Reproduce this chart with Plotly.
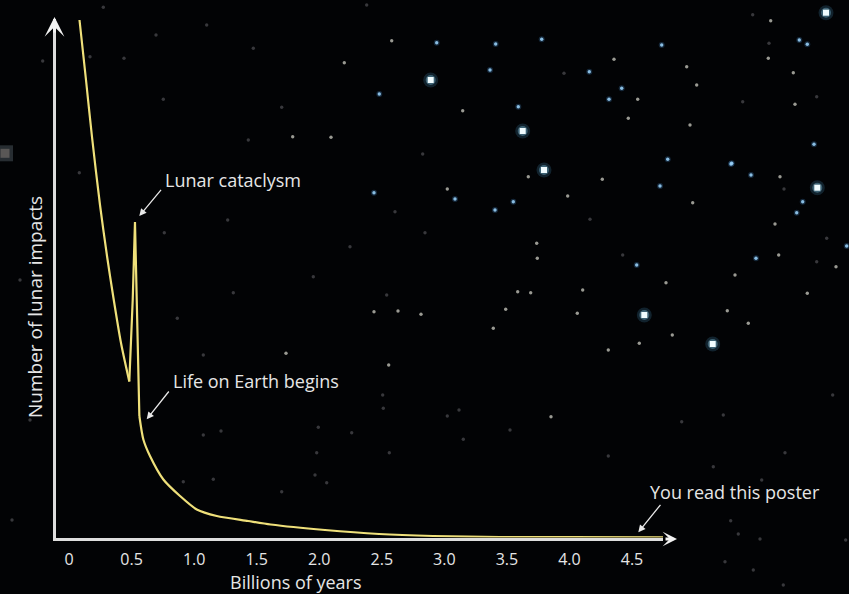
import plotly.graph_objects as go

# ---------------- data ----------------
# early decline (before the cataclysm)
early_years = [0.0835, 0.1355, 0.1835, 0.2474, 0.3034, 0.3537, 0.4153, 0.4816]
early_impacts = [103.5, 91.5, 80.1, 66.5, 56.3, 48.1, 38.9, 31.2]
# lunar cataclysm spike
spike_years = [0.4816, 0.509, 0.527, 0.541, 0.562]
spike_impacts = [31.2, 47.6, 63.1, 47.6, 24.3]
# late decline (after life on Earth begins)
late_years = [0.562, 0.594, 0.647, 0.754, 0.887, 1.021, 1.181, 1.431, 1.612,
              2.046, 2.478, 2.910, 3.445, 4.000, 4.750]
late_impacts = [24.3, 19.6, 16.3, 11.6, 8.3, 5.6, 4.3, 3.3, 2.6,
                1.5, 0.7, 0.3, 0.1, 0.06, 0.05]
tick_vals = [0, 0.5, 1.0, 1.5, 2.0, 2.5, 3.0, 3.5, 4.0, 4.5]
tick_text = ["0", "0.5", "1.0", "1.5", "2.0", "2.5", "3.0", "3.5", "4.0", "4.5"]

# background star field (decoration, image pixel coordinates)
bright_x = [522.7, 544, 644.3, 712.7, 826, 817.3, 430.7]
bright_y = [131, 170, 315, 344, 12.7, 187.7, 80]
blue_x = [495.7, 490, 541.7, 589.3, 621.7, 609, 518.3, 667.7, 731, 455, 495, 660,
          379.3, 436.7, 374, 799.3, 807.3, 814, 731.7, 751, 802.7, 796.7, 846.7,
          756, 636.7, 513.3, 661.7]
blue_y = [44, 70, 39.3, 71.7, 88.3, 99.3, 106.7, 159.3, 164, 199, 210, 186,
          94, 42.7, 192.7, 40, 44.3, 144.3, 163.3, 175, 201.7, 212.7, 246,
          258.3, 265, 201.7, 45]
white_x = [462.7, 614, 637.7, 628.3, 690, 686.7, 696.7, 528.3, 447.3, 567.7, 602.3,
           692.7, 536.7, 537.3, 517.7, 530.7, 505.7, 493.3, 582.7, 577.3, 672.3,
           727.3, 735, 608.3, 639.3, 748.3, 770.7, 768.3, 793.3, 795, 780, 775,
           778.7, 836, 807.3, 391.7, 344.3, 331, 292.7, 374, 398, 421, 286, 388.7,
           551, 666]
white_y = [110.7, 59.3, 99.3, 118.3, 125, 66.7, 85, 176.7, 189, 196, 179.3,
           202.7, 243.3, 258.3, 291.7, 292.7, 309.3, 328.3, 290, 313.3, 335,
           310.7, 275, 350, 343.3, 323.3, 20.7, 58.3, 72.7, 104.3, 176.7, 224,
           255, 266.7, 293.3, 40.7, 62.7, 137.3, 136.7, 311.7, 311, 314.3, 353.3, 365,
           416.7, 282.7]
dim_x = [564, 622.7, 590, 366.7, 281.7, 253.3, 206.7, 156, 425, 395, 227.7, 164.3,
         163.3, 248.3, 79.3, 42.7, 90, 124, 103.3, 422.7, 350, 313.3, 233.3, 386.7,
         752.7, 769, 742.7, 816.7, 826.7, 784, 816.7, 177.3, 203.3, 318.3, 351.7,
         221, 203.3, 316.7, 389.3, 383.3, 382.7, 183.3, 213.3, 315, 326.7, 281.7,
         447.3, 459, 681.7, 723.3, 785, 761.7, 832.7, 608.3, 463.3, 510, 713.3,
         730.7, 738.3, 760, 845.7, 725, 753.3, 783.3, 20, 30, 12]
dim_y = [73.3, 255, 219.3, 5, 107.3, 48.3, 25, 35, 232.7, 211.7, 220, 232.7,
         99.3, 140, 172.7, 61, 56.7, 58.3, 7.3, 154, 246.7, 276.7, 292.7, 295,
         14.7, 43.3, 101.7, 96.7, 238.3, 189, 261.7, 318.3, 355, 427.3, 432.7,
         431, 435, 452.7, 452.7, 408.3, 395, 481.7, 479.3, 475, 482.7, 491.7,
         416, 410, 421.7, 415, 452.7, 480, 395, 456, 439.3, 430, 466.7,
         520.7, 534, 539, 540, 561.7, 570, 585, 280, 420, 520]

W, H = 849, 594
fig = go.Figure()


def stars(xs, ys, **marker):
    marker.setdefault("line_width", 0)
    fig.add_trace(go.Scatter(x=xs, y=ys, mode="markers", hoverinfo="skip",
                             marker=marker, xaxis="x", yaxis="y", showlegend=False))


# star field on a full-page pixel subplot (x / y)
stars([5], [153.3], size=16, symbol="square", color="rgba(110,125,135,0.35)")
stars([5], [153.3], size=9, symbol="square", color="rgba(150,140,130,0.45)")
stars(dim_x, dim_y, size=3.4, color="rgba(110,110,115,0.5)")
stars(white_x, white_y, size=3.4, color="rgba(205,205,195,0.75)")
stars(blue_x, blue_y, size=6, color="rgba(80,150,220,0.25)")
stars(blue_x, blue_y, size=3.4, color="rgba(150,205,245,0.9)")
stars(bright_x, bright_y, size=15, color="rgba(90,180,230,0.18)")
stars(bright_x, bright_y, size=10, color="rgba(140,215,245,0.35)")
stars(bright_x, bright_y, size=6, symbol="square", color="rgba(240,252,255,1)")

# impact curve
curve_col = "#efe07a"
for xs, ys, shape in [(early_years, early_impacts, "spline"),
                      (spike_years, spike_impacts, "linear"),
                      (late_years, late_impacts, "spline")]:
    line = dict(color=curve_col, width=2.2, shape=shape)
    if shape == "spline":
        line["smoothing"] = 0.7
    fig.add_trace(go.Scatter(x=xs, y=ys, mode="lines", hoverinfo="skip", line=line,
                             xaxis="x2", yaxis="y2", showlegend=False, cliponaxis=True))

# geometry of the chart (pixels)
x_left_px, x_right_px = 56, 663
y_bot_px, y_top_px = 537.5, 19
x0_px, px_per_unit = 69.05, 125.1
px_per_y = 5.0
x_range = [(x_left_px - x0_px) / px_per_unit, (x_right_px - x0_px) / px_per_unit]
y_range = [0, (y_bot_px - y_top_px) / px_per_y]

axis_col = "#dedede"
txt_col = "#e6e6e6"
font_fam = "Open Sans"

fig.update_layout(
    width=W, height=H,
    margin=dict(l=0, r=0, t=0, b=0),
    paper_bgcolor="#020305",
    plot_bgcolor="rgba(0,0,0,0)",
    showlegend=False,
    xaxis=dict(domain=[0, 1], range=[0, W], visible=False, fixedrange=True),
    yaxis=dict(domain=[0, 1], range=[H, 0], visible=False, fixedrange=True),
    xaxis2=dict(domain=[x_left_px / W, x_right_px / W], range=x_range, anchor="y2",
                showgrid=False, zeroline=False, showline=True, linecolor=axis_col,
                linewidth=3, layer="below traces",
                tickmode="array", tickvals=tick_vals, ticktext=tick_text,
                ticks="outside", ticklen=5, tickcolor="rgba(0,0,0,0)",
                tickfont=dict(family=font_fam, size=16, color=txt_col)),
    yaxis2=dict(domain=[1 - y_bot_px / H, 1 - y_top_px / H], range=y_range, anchor="x2",
                showgrid=False, zeroline=False, showline=True, linecolor=axis_col,
                linewidth=3, layer="below traces", showticklabels=False, ticks=""),
)

ann = []
# axis arrowheads
ann.append(dict(x=677, y=539, ax=664, ay=539, xref="x", yref="y", axref="x", ayref="y",
                text="", showarrow=True, arrowhead=3, arrowwidth=3, arrowsize=0.8,
                arrowcolor="#f2f2f2"))
ann.append(dict(x=54.5, y=17, ax=54.5, ay=34, xref="x", yref="y", axref="x", ayref="y",
                text="", showarrow=True, arrowhead=3, arrowwidth=3, arrowsize=1.1,
                arrowcolor="#f2f2f2"))
# pointer arrows
for (tx, ty, hx, hy) in [(162.3, 188.3, 139.3, 216), (170, 390, 146.7, 419.3),
                         (661.7, 503.3, 638.3, 532.3)]:
    ann.append(dict(x=hx, y=hy, ax=tx, ay=ty, xref="x", yref="y", axref="x", ayref="y",
                    text="", showarrow=True, arrowhead=2, arrowwidth=1.3, arrowsize=1.1,
                    arrowcolor="#e8e8e8"))
# labels
for (t, x, y) in [("Lunar cataclysm", 163, 180), ("Life on Earth begins", 171, 381),
                  ("You read this poster", 648, 492)]:
    ann.append(dict(x=x, y=y, xref="x", yref="y", text=t, showarrow=False,
                    xanchor="left", yanchor="middle",
                    font=dict(family=font_fam, size=18, color=txt_col)))
ann.append(dict(x=296, y=582, xref="x", yref="y", text="Billions of years", showarrow=False,
                xanchor="center", yanchor="middle",
                font=dict(family=font_fam, size=18, color=txt_col)))
ann.append(dict(x=35, y=307, xref="x", yref="y", text="Number of lunar impacts", showarrow=False,
                xanchor="center", yanchor="middle", textangle=-90,
                font=dict(family=font_fam, size=19, color=txt_col)))
fig.update_layout(annotations=ann)

fig.write_html("out.html", config={"displayModeBar": False},
               post_script="document.body.style.margin='0';document.body.style.background='#020305';")
